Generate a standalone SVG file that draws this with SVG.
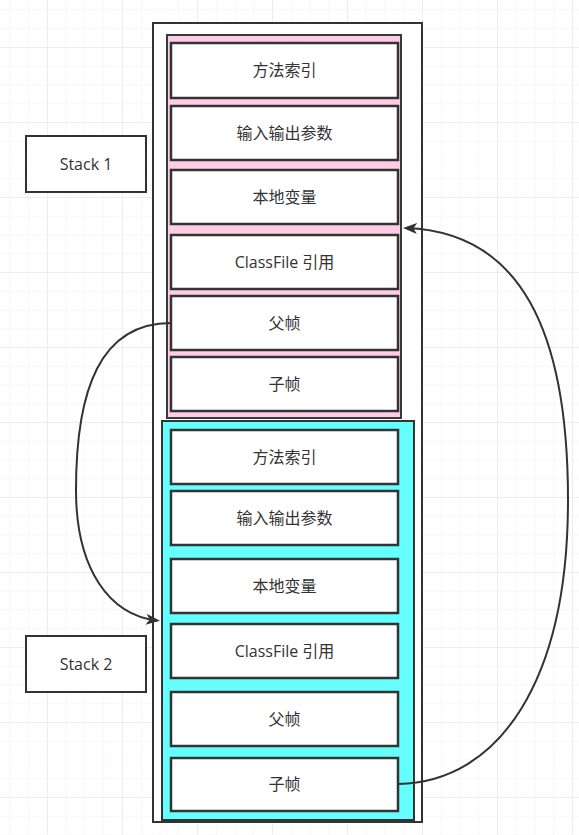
<svg xmlns="http://www.w3.org/2000/svg" width="579" height="835" viewBox="0 0 579 835">
<defs>
<pattern id="minor" x="47" y="47" width="18.75" height="18.75" patternUnits="userSpaceOnUse">
<path d="M0,0 H18.75 M0,0 V18.75" fill="none" stroke="#f0f0f0" stroke-width="1"/>
</pattern>
<pattern id="major" x="47" y="47" width="75" height="75" patternUnits="userSpaceOnUse">
<path d="M0,0 H75 M0,0 V75" fill="none" stroke="#e4e4e4" stroke-width="1"/>
</pattern>
<marker id="arrow" viewBox="0 0 14 11" refX="11" refY="5.5" markerWidth="14" markerHeight="11" markerUnits="userSpaceOnUse" orient="auto">
<path d="M0,0 L14,5.5 L0,11 L3.5,5.5 Z" fill="#333333"/>
</marker>
</defs>
<style>
.frame{fill:#ffffff;stroke:#333333;stroke-width:2}
.pink{fill:#ffcce6;stroke:#36393d;stroke-width:2}
.cyan{fill:#66ffff;stroke:#333333;stroke-width:2}
.cell{fill:#ffffff;stroke:#333333;stroke-width:2.5}
.box{fill:#ffffff;stroke:#333333;stroke-width:2}
.t{font-family:"Open Sans","Noto Sans CJK SC",sans-serif;font-size:16px;fill:#333333;text-anchor:middle}
.edge{fill:none;stroke:#333333;stroke-width:2;marker-end:url(#arrow)}
</style>
<rect width="579" height="835" fill="#ffffff"/>
<rect width="579" height="835" fill="url(#minor)"/>
<rect width="579" height="835" fill="url(#major)"/>

<g id="outer-frame"><rect class="frame" x="153" y="23" width="269" height="799"/></g>

<g id="stack1-container"><rect class="pink" x="167" y="35" width="234" height="383"/></g>
<g id="stack2-container"><rect class="cyan" x="162" y="421" width="252" height="399"/></g>

<g id="s1-method-index"><rect class="cell" x="171" y="43" width="227" height="55"/><text class="t" x="284.5" y="76">方法索引</text></g>
<g id="s1-io-params"><rect class="cell" x="171" y="106" width="227" height="54"/><text class="t" x="284.5" y="139">输入输出参数</text></g>
<g id="s1-local-vars"><rect class="cell" x="171" y="170" width="227" height="54"/><text class="t" x="284.5" y="203">本地变量</text></g>
<g id="s1-classfile"><rect class="cell" x="171" y="235" width="227" height="54"/><text class="t" x="284.5" y="268">ClassFile 引用</text></g>
<g id="s1-parent"><rect class="cell" x="171" y="296" width="227" height="54"/><text class="t" x="284.5" y="329">父帧</text></g>
<g id="s1-child"><rect class="cell" x="171" y="357" width="227" height="54"/><text class="t" x="284.5" y="390">子帧</text></g>

<g id="s2-method-index"><rect class="cell" x="171" y="430" width="227" height="54"/><text class="t" x="284.5" y="463">方法索引</text></g>
<g id="s2-io-params"><rect class="cell" x="171" y="491" width="227" height="54"/><text class="t" x="284.5" y="524">输入输出参数</text></g>
<g id="s2-local-vars"><rect class="cell" x="171" y="559" width="227" height="54"/><text class="t" x="284.5" y="592">本地变量</text></g>
<g id="s2-classfile"><rect class="cell" x="171" y="624" width="227" height="54"/><text class="t" x="284.5" y="657">ClassFile 引用</text></g>
<g id="s2-parent"><rect class="cell" x="171" y="692" width="227" height="54"/><text class="t" x="284.5" y="725">父帧</text></g>
<g id="s2-child"><rect class="cell" x="171" y="758" width="227" height="53"/><text class="t" x="284.5" y="790">子帧</text></g>

<g id="stack1-label"><rect class="box" x="26" y="136" width="120" height="56"/><text class="t" x="86" y="170">Stack 1</text></g>
<g id="stack2-label"><rect class="box" x="26" y="636" width="120" height="56"/><text class="t" x="86" y="670">Stack 2</text></g>

<g id="connectors">
<path class="edge" d="M171,323 C100,323 76,390 76,490 C76,570 110,615 157,620.5"/>
<path class="edge" d="M398,784 C500,782 568,680 568,500 C568,330 520,232 406,228"/>
</g>
</svg>
